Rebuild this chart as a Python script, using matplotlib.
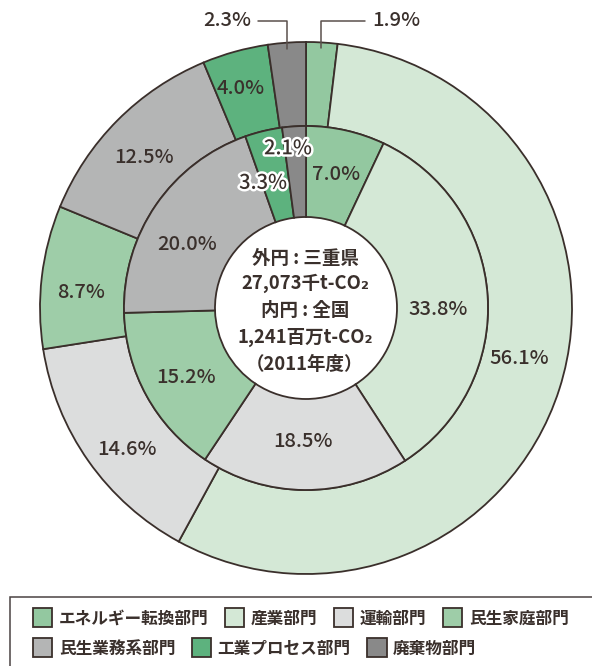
import numpy as np
import matplotlib
matplotlib.use("Agg")
import matplotlib.pyplot as plt
import matplotlib.patheffects as pe
from matplotlib.patches import Rectangle

plt.rcParams['font.family'] = ['Noto Sans CJK JP', 'DejaVu Sans']

# ---- data ----
categories = ["エネルギー転換部門", "産業部門", "運輸部門", "民生家庭部門",
              "民生業務系部門", "工業プロセス部門", "廃棄物部門"]
outer_values = [1.9, 56.1, 14.6, 8.7, 12.5, 4.0, 2.3]   # 三重県
inner_values = [7.0, 33.8, 18.5, 15.2, 20.0, 3.3, 2.1]  # 全国
center_lines = ["外円 : 三重県", "27,073千t-CO₂", "内円 : 全国", "1,241百万t-CO₂", "（2011年度）"]

# ---- style ----
colors = ["#93c8a0", "#d4e8d6", "#dcdddd", "#9ecda8", "#b4b5b5", "#5db27e", "#898989"]
edge = "#3a2f2b"
txt = "#3a302c"

W, H = 592, 666
fig = plt.figure(figsize=(W / 100, H / 100), dpi=100)
ax = fig.add_axes([0, 0, 1, 1])

cx, cy = 306, H - 308
R_out, R_mid, R_in = 266, 182, 91

wo, _ = ax.pie(outer_values, radius=R_out, center=(cx, cy), startangle=90,
               counterclock=False, colors=colors,
               wedgeprops=dict(width=R_out - R_mid, edgecolor=edge, linewidth=1.3))
wi, _ = ax.pie(inner_values, radius=R_mid, center=(cx, cy), startangle=90,
               counterclock=False, colors=colors,
               wedgeprops=dict(width=R_mid - R_in, edgecolor=edge, linewidth=1.3))

ax.set_xlim(0, W)
ax.set_ylim(0, H)
ax.set_aspect('equal')
ax.axis('off')


def mid_angles(vals):
    v = np.asarray(vals, float)
    frac = v / v.sum()
    cum = np.cumsum(frac) - frac / 2
    return np.deg2rad(90 - cum * 360)


# label nudges (pixels, x right / y down)
outer_nudge = [None, (0, -18), (4, 13), (-2, 11), (-3, 8), (-6, -4), None]
inner_nudge = [(0, 0), (-4, 11), (-2, -3), (0, 3), (-6, 14), (-11, 8), (-9, -23)]
inner_halo = [False, False, False, False, False, True, True]

ang_o = mid_angles(outer_values)
ang_i = mid_angles(inner_values)
r_lab_o = (R_out + R_mid) / 2
r_lab_i = (R_mid + R_in) / 2

lab_kw = dict(ha='center', va='center', fontsize=14.5, fontweight='medium', color=txt)

for a, v, nd in zip(ang_o, outer_values, outer_nudge):
    if nd is None:
        continue
    x = cx + r_lab_o * np.cos(a) + nd[0]
    y = cy + r_lab_o * np.sin(a) - nd[1]
    ax.text(x, y, f"{v:.1f}%", **lab_kw)

for a, v, nd, halo in zip(ang_i, inner_values, inner_nudge, inner_halo):
    x = cx + r_lab_i * np.cos(a) + nd[0]
    y = cy + r_lab_i * np.sin(a) - nd[1]
    t = ax.text(x, y, f"{v:.1f}%", **lab_kw)
    if halo:
        t.set_path_effects([pe.withStroke(linewidth=3.5, foreground='white')])

# external labels with leader lines
r_tip = R_out - 6
for idx, tx, ha in [(0, 372, 'left'), (6, 251, 'right')]:
    a = ang_o[idx]
    xy = (cx + r_tip * np.cos(a), cy + r_tip * np.sin(a))
    ax.annotate(f"{outer_values[idx]:.1f}%", xy=xy, xytext=(tx, H - 21),
                ha=ha, va='center', fontsize=14.5, fontweight='medium', color=txt,
                arrowprops=dict(arrowstyle='-', color='#5a504c', lw=1.1,
                                shrinkA=3, shrinkB=0,
                                connectionstyle='angle,angleA=0,angleB=90,rad=0'))

# centre text
for line, py in zip(center_lines, [259, 283, 311, 337, 365]):
    ax.text(cx - 1, H - py, line, ha='center', va='center', fontsize=13.3,
            fontweight='bold', color=txt)

# legend box
ax.add_patch(Rectangle((10, -20), W + 20, H - 597 + 20, fill=False,
                       edgecolor='#4a4242', linewidth=1.1, clip_on=True))

leg_kw = dict(loc='center left', frameon=False, borderpad=0, borderaxespad=0,
              handlelength=1.15, handleheight=1.37, handletextpad=0.4,
              columnspacing=1.0,
              prop=dict(family=['Noto Sans CJK JP', 'DejaVu Sans'], weight='bold', size=12.0),
              labelcolor=txt, bbox_transform=ax.transData)
leg1 = ax.legend(wo[:4], categories[:4], ncol=4, bbox_to_anchor=(33, H - 618), **leg_kw)
ax.add_artist(leg1)
ax.legend(wo[4:], categories[4:], ncol=3, bbox_to_anchor=(33, H - 648), **leg_kw)

fig.savefig("out.png", dpi=100)
